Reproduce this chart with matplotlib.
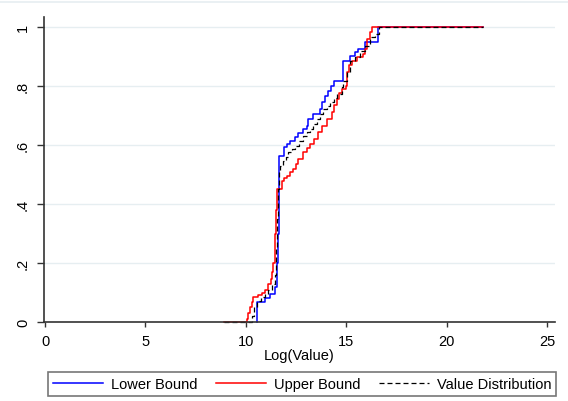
import matplotlib

matplotlib.use("Agg")
import matplotlib.pyplot as plt
from matplotlib.lines import Line2D

plt.rcParams["font.family"] = ["Liberation Sans", "DejaVu Sans"]

# step points (x = log value, y = cumulative share)
lower_x = [10.55, 10.55, 10.96, 11.21, 11.43, 11.54, 11.60, 11.63, 11.88, 12.05, 12.21, 12.45,
           12.62, 12.85, 13.04, 13.12, 13.37, 13.70, 13.80, 13.95, 14.10, 14.25, 14.37, 14.86,
           15.20, 15.45, 15.61, 15.95, 16.56, 21.8]
lower_y = [0.0, 0.069, 0.08, 0.095, 0.12, 0.20, 0.30, 0.564, 0.592, 0.605, 0.615, 0.628,
           0.640, 0.654, 0.666, 0.688, 0.705, 0.722, 0.745, 0.765, 0.784, 0.800, 0.818, 0.886,
           0.903, 0.914, 0.926, 0.948, 1.0, 1.0]

upper_x = [8.89, 10.05, 10.13, 10.21, 10.30, 10.38, 10.63, 10.80, 10.96, 11.13, 11.26, 11.33,
           11.38, 11.43, 11.46, 11.50, 11.54, 11.79, 11.90, 12.04, 12.20, 12.37, 12.50, 12.62,
           12.87, 13.05, 13.20, 13.40, 13.62, 13.80, 14.04, 14.28, 14.40, 14.53, 14.65, 14.78,
           15.00, 15.06, 15.15, 15.28, 15.53, 15.86, 15.94, 16.03, 16.19, 16.28, 21.8]
upper_y = [0.0, 0.01, 0.03, 0.05, 0.067, 0.085, 0.09, 0.10, 0.11, 0.13, 0.146, 0.17,
           0.20, 0.25, 0.30, 0.38, 0.451, 0.479, 0.488, 0.496, 0.508, 0.519, 0.535, 0.553,
           0.575, 0.59, 0.603, 0.622, 0.643, 0.665, 0.688, 0.711, 0.735, 0.756, 0.775, 0.790,
           0.80, 0.846, 0.87, 0.886, 0.897, 0.908, 0.925, 0.959, 0.982, 1.0, 1.0]

value_x = [8.89, 10.30, 10.40, 10.55, 10.75, 10.96, 11.13, 11.30, 11.43, 11.50, 11.55, 11.58,
           11.63, 11.70, 11.85, 12.00, 12.12, 12.30, 12.46, 12.65, 12.87, 13.04, 13.20, 13.37,
           13.54, 13.70, 13.87, 14.04, 14.20, 14.37, 14.53, 14.78, 14.86, 15.03, 15.20, 15.45,
           15.70, 15.94, 16.19, 16.44, 16.61, 21.8]
value_y = [0.0, 0.02, 0.05, 0.07, 0.085, 0.095, 0.11, 0.13, 0.16, 0.25, 0.35, 0.451,
           0.507, 0.53, 0.545, 0.56, 0.575, 0.585, 0.598, 0.612, 0.632, 0.643, 0.654, 0.670,
           0.688, 0.705, 0.722, 0.733, 0.745, 0.760, 0.773, 0.796, 0.818, 0.846, 0.886, 0.897,
           0.92, 0.937, 0.965, 0.976, 1.0, 1.0]

x_ticks = [0, 5, 10, 15, 20, 25]
y_ticks = [0, 0.2, 0.4, 0.6, 0.8, 1.0]
y_ticklabels = ["0", ".2", ".4", ".6", ".8", "1"]

fig = plt.figure(figsize=(5.68, 4.02), dpi=100)
fig.patch.set_facecolor("white")
ax = fig.add_axes([44 / 568, 79 / 402, 511 / 568, 305 / 402])

ax.step(lower_x, lower_y, where="post", color="#0000FF", lw=1.1, label="Lower Bound", clip_on=False)
ax.step(upper_x, upper_y, where="post", color="#FF0000", lw=1.1, label="Upper Bound", clip_on=False)
ax.step(value_x, value_y, where="post", color="#000000", lw=0.9, dashes=(4, 2.4),
        label="Value Distribution", clip_on=False)

ax.set_xlim(-0.05, 25.4)
ax.set_ylim(0, 1.034)
ax.set_xticks(x_ticks)
ax.set_yticks(y_ticks)
ax.set_yticklabels(y_ticklabels, rotation=90, va="center")
ax.tick_params(axis="x", length=3.5, width=1, color="#333333", labelsize=10.5, pad=5)
ax.tick_params(axis="y", length=5, width=1, color="#333333", labelsize=10.5, pad=5)
ax.set_xlabel("Log(Value)", fontsize=10.5, labelpad=0)

for s in ("top", "right"):
    ax.spines[s].set_visible(False)
for s in ("left", "bottom"):
    ax.spines[s].set_color("#333333")
    ax.spines[s].set_linewidth(1.2)
ax.grid(axis="y", color="#E6EEF1", linewidth=1.0)
ax.set_axisbelow(True)

# thin border line along the top of the graph region
fig.add_artist(Line2D([0, 1], [1 - 3 / 402, 1 - 3 / 402], color="#E6EEF1", lw=1.2))

handles, labels = ax.get_legend_handles_labels()
leg = fig.legend(handles, labels, loc="center left", bbox_to_anchor=(48 / 568, 17 / 402),
                 ncol=3, fontsize=10.5, frameon=True, fancybox=False, handlelength=3.4,
                 handletextpad=0.55, columnspacing=1.3, borderpad=0.35, borderaxespad=0)
leg.get_frame().set_edgecolor("#555555")
leg.get_frame().set_linewidth(1.2)

fig.savefig("out.png", dpi=100, facecolor="white")
